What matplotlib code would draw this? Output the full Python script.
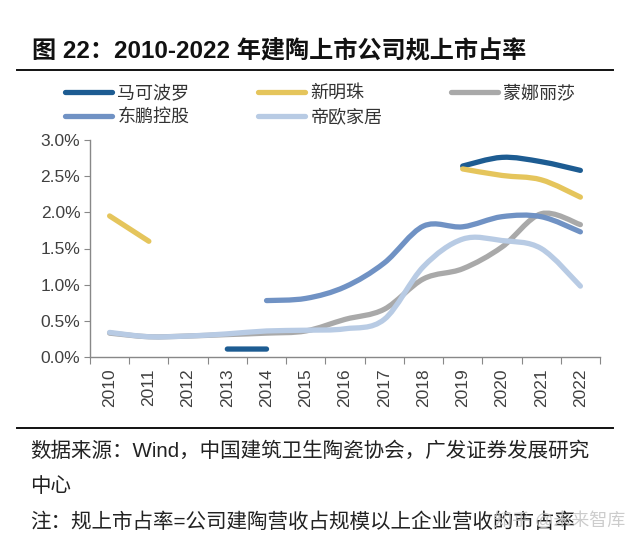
import numpy as np
import matplotlib
matplotlib.use("Agg")
from matplotlib import pyplot as plt
from matplotlib.path import Path
from matplotlib.patches import PathPatch
from matplotlib.lines import Line2D
from matplotlib.ticker import PercentFormatter

plt.rcParams['font.family'] = ['Liberation Sans', 'Noto Sans CJK SC', 'DejaVu Sans']

years = [str(y) for y in range(2010, 2023)]
# market share, % (None = no data)
marco_polo = [None, None, None, 0.11, 0.11, None, None, None, None, 2.64, 2.76, 2.70, 2.58]
new_pearl = [1.95, 1.60, None, None, None, None, None, None, None, 2.60, 2.51, 2.45, 2.21]
monalisa = [0.33, 0.28, 0.29, 0.31, 0.33, 0.36, 0.52, 0.66, 1.08, 1.22, 1.52, 1.98, 1.83]
dongpeng = [None, None, None, None, 0.78, 0.81, 0.97, 1.30, 1.81, 1.80, 1.94, 1.94, 1.73]
dio = [0.34, 0.28, 0.29, 0.32, 0.36, 0.37, 0.39, 0.52, 1.25, 1.63, 1.61, 1.50, 0.98]

names = ["马可波罗", "新明珠", "蒙娜丽莎", "东鹏控股", "帝欧家居"]
series = [marco_polo, new_pearl, monalisa, dongpeng, dio]
colors = ["#1d5c92", "#e5c55c", "#a9a9a9", "#7092c4", "#b8cbe4"]


def smooth_path(xs, ys):
    # excel-like bezier smoothing through the points
    verts = [(xs[0], ys[0])]
    codes = [Path.MOVETO]
    n = len(xs)
    for i in range(n - 1):
        p0 = np.array([xs[max(i - 1, 0)], ys[max(i - 1, 0)]])
        p1 = np.array([xs[i], ys[i]])
        p2 = np.array([xs[i + 1], ys[i + 1]])
        p3 = np.array([xs[min(i + 2, n - 1)], ys[min(i + 2, n - 1)]])
        c1 = p1 + (p2 - p0) / 6.0
        c2 = p2 - (p3 - p1) / 6.0
        verts += [tuple(c1), tuple(c2), tuple(p2)]
        codes += [Path.CURVE4] * 3
    return Path(verts, codes)


def segments(vals):
    segs, cur = [], []
    for i, v in enumerate(vals):
        if v is None:
            if cur:
                segs.append(cur)
            cur = []
        else:
            cur.append((i, v))
    if cur:
        segs.append(cur)
    return segs


fig = plt.figure(figsize=(6.4, 5.57), dpi=100)
ax = fig.add_axes((90 / 640, 1 - 357 / 557, 510 / 640, 217 / 557))

for k, (vals, col) in enumerate(zip(series, colors)):
    for seg in segments(vals):
        xs = [p[0] for p in seg]
        ys = [p[1] for p in seg]
        patch = PathPatch(smooth_path(xs, ys), facecolor="none", edgecolor=col,
                          lw=3.8, capstyle="round", joinstyle="round", zorder=2 + k)
        ax.add_patch(patch)

ax.set_xlim(-0.5, len(years) - 0.5)
ax.set_ylim(0, 3.0)
ax.set_yticks(np.arange(0, 3.01, 0.5))
ax.yaxis.set_major_formatter(PercentFormatter(100, decimals=1))
ax.set_xticks(np.arange(-0.5, len(years), 1.0))
ax.set_xticklabels([])
ax.set_xticks(np.arange(len(years)), minor=True)
ax.set_xticklabels(years, minor=True, rotation=90)
ax.tick_params(axis="x", which="minor", length=0, pad=8, labelsize=12.5, colors="#404040")
ax.tick_params(axis="x", which="major", length=5, color="#888888", direction="out")
ax.tick_params(axis="y", length=4, color="#888888", labelsize=12.5, labelcolor="#404040", pad=3)
for s in ["top", "right"]:
    ax.spines[s].set_visible(False)
for s in ["left", "bottom"]:
    ax.spines[s].set_color("#888888")
    ax.spines[s].set_linewidth(1.0)

# legend
handles = [Line2D([], [], color=c, lw=3.8, solid_capstyle="round") for c in colors]
order = [0, 3, 1, 4, 2]
fig.legend([handles[i] for i in order], [names[i] for i in order], ncol=3,
           loc="upper left", bbox_to_anchor=(65 / 640, 1 - 84 / 557), frameon=False,
           prop={"family": ["Noto Sans CJK SC"], "size": 13},
           handlelength=2.6, handletextpad=0.3, columnspacing=3.8,
           labelspacing=0.33, borderpad=0, borderaxespad=0, labelcolor="#333333")

# title and rules
fig.text(32 / 640, 1 - 52 / 557, "图 22：2010-2022 年建陶上市公司规上市占率",
         fontsize=17.4, fontweight="bold", color="#111111", va="center", ha="left",
         family=["Liberation Sans", "Noto Sans CJK SC"])
fig.add_artist(Line2D([17 / 640, 613 / 640], [1 - 69.5 / 557, 1 - 69.5 / 557], color="#111111", lw=1.4))
fig.add_artist(Line2D([17 / 640, 613 / 640], [1 - 428 / 557, 1 - 428 / 557], color="#111111", lw=1.4))

fig.text(30 / 640, 1 - 451 / 557, "数据来源：Wind，中国建筑卫生陶瓷协会，广发证券发展研究",
         fontsize=14.8, color="#222222", va="center", ha="left")
fig.text(30 / 640, 1 - 486 / 557, "中心", fontsize=14.8, color="#222222", va="center", ha="left")
fig.text(30 / 640, 1 - 522 / 557, "注：规上市占率=公司建陶营收占规模以上企业营收的市占率",
         fontsize=14.8, color="#222222", va="center", ha="left")
fig.text(625 / 640, 1 - 521 / 557, "知乎 @未来智库", fontsize=13, color="#c4c4c4",
         va="center", ha="right", alpha=0.85)

fig.savefig("out.png", dpi=100, facecolor="white")
